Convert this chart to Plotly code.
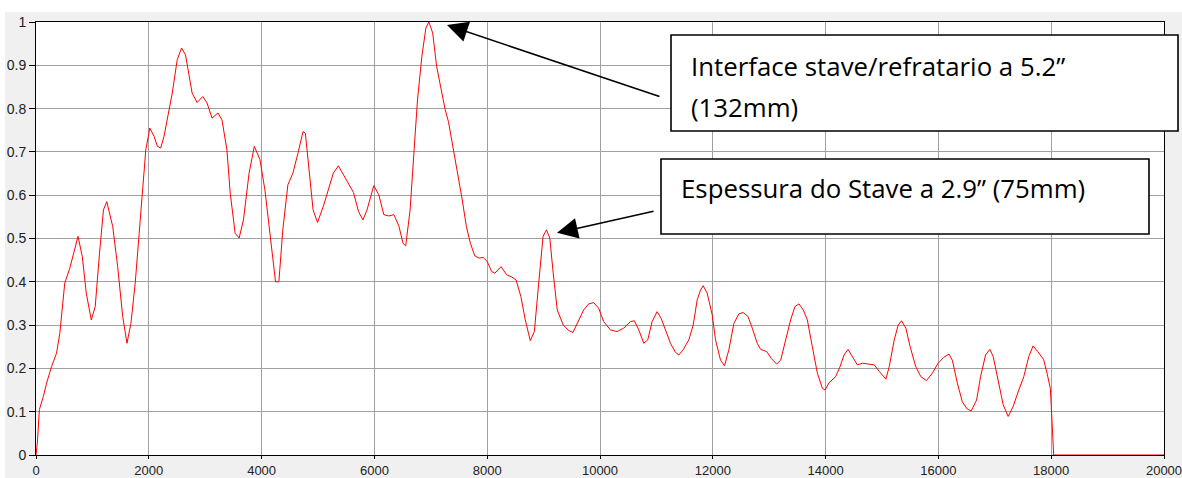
import plotly.graph_objects as go

depth = [0, 25, 60, 130, 188, 275, 364, 422, 510, 598, 668, 745, 821, 891, 980, 1050, 1126, 1196, 1255,
         1360, 1448, 1537, 1613, 1683, 1759, 1830, 1888, 1947, 2018, 2094, 2152, 2211, 2270, 2358, 2416,
         2504, 2581, 2651, 2710, 2768, 2856, 2956, 3033, 3121, 3226, 3297, 3385, 3443, 3531, 3602, 3678,
         3778, 3871, 3971, 4059, 4147, 4247, 4306, 4376, 4466, 4555, 4645, 4734, 4776, 4836, 4913, 4991,
         5093, 5182, 5272, 5361, 5451, 5540, 5630, 5719, 5797, 5869, 5988, 6078, 6167, 6257, 6346, 6436,
         6507, 6555, 6633, 6704, 6764, 6842, 6913, 6965, 7033, 7104, 7182, 7254, 7313, 7391, 7480, 7558,
         7630, 7702, 7779, 7851, 7928, 8000, 8078, 8137, 8245, 8346, 8436, 8513, 8597, 8675, 8764, 8836,
         8913, 8991, 9051, 9110, 9170, 9242, 9349, 9451, 9520, 9621, 9710, 9799, 9888, 9976, 10065, 10184,
         10302, 10420, 10539, 10610, 10687, 10776, 10847, 10924, 11012, 11083, 11160, 11249, 11338, 11397,
         11474, 11575, 11652, 11723, 11782, 11829, 11900, 11989, 12048, 12137, 12208, 12285, 12374, 12463,
         12540, 12623, 12700, 12788, 12848, 12954, 13037, 13132, 13203, 13292, 13380, 13457, 13528, 13605,
         13676, 13765, 13854, 13943, 13990, 14061, 14179, 14256, 14327, 14398, 14475, 14564, 14653, 14754,
         14863, 14952, 15069, 15128, 15217, 15287, 15346, 15423, 15499, 15599, 15688, 15788, 15894, 15994,
         16100, 16188, 16247, 16336, 16424, 16512, 16583, 16677, 16748, 16836, 16913, 16972, 17054, 17149,
         17237, 17325, 17425, 17514, 17602, 17679, 17761, 17867, 17926, 17985, 18000, 18020, 18044, 20000]

amplitude = [0.0, 0.03, 0.105, 0.135, 0.166, 0.204, 0.235, 0.281, 0.397, 0.431, 0.466, 0.505, 0.458, 0.374,
             0.312, 0.343, 0.466, 0.566, 0.585, 0.528, 0.435, 0.320, 0.258, 0.304, 0.397, 0.512, 0.620,
             0.705, 0.755, 0.736, 0.713, 0.709, 0.736, 0.798, 0.836, 0.913, 0.940, 0.924, 0.882, 0.836,
             0.814, 0.828, 0.813, 0.778, 0.790, 0.774, 0.705, 0.605, 0.512, 0.501, 0.543, 0.651, 0.713,
             0.682, 0.612, 0.512, 0.400, 0.400, 0.520, 0.624, 0.651, 0.697, 0.747, 0.743, 0.666, 0.566,
             0.537, 0.574, 0.612, 0.651, 0.668, 0.647, 0.624, 0.606, 0.562, 0.543, 0.566, 0.622, 0.601,
             0.555, 0.552, 0.555, 0.528, 0.489, 0.483, 0.566, 0.705, 0.820, 0.921, 0.986, 1.0, 0.975,
             0.897, 0.844, 0.798, 0.770, 0.713, 0.651, 0.589, 0.528, 0.489, 0.460, 0.455, 0.456, 0.447,
             0.424, 0.420, 0.435, 0.416, 0.411, 0.404, 0.366, 0.312, 0.264, 0.285, 0.397, 0.505, 0.520,
             0.501, 0.420, 0.335, 0.300, 0.287, 0.283, 0.312, 0.335, 0.349, 0.352, 0.339, 0.308, 0.289,
             0.285, 0.293, 0.308, 0.310, 0.289, 0.258, 0.266, 0.308, 0.331, 0.316, 0.289, 0.258, 0.237,
             0.231, 0.243, 0.266, 0.300, 0.358, 0.381, 0.391, 0.374, 0.324, 0.266, 0.219, 0.206, 0.243,
             0.304, 0.326, 0.329, 0.320, 0.293, 0.258, 0.244, 0.239, 0.223, 0.210, 0.219, 0.266, 0.312,
             0.343, 0.349, 0.335, 0.312, 0.250, 0.189, 0.154, 0.150, 0.167, 0.181, 0.204, 0.231, 0.244,
             0.227, 0.208, 0.212, 0.210, 0.208, 0.193, 0.175, 0.204, 0.266, 0.300, 0.310, 0.293, 0.250,
             0.204, 0.181, 0.172, 0.189, 0.212, 0.226, 0.233, 0.219, 0.166, 0.123, 0.106, 0.102, 0.127,
             0.181, 0.231, 0.244, 0.227, 0.173, 0.116, 0.089, 0.112, 0.150, 0.181, 0.227, 0.252, 0.239,
             0.220, 0.189, 0.154, 0.116, 0.050, 0.0, 0.0]

x_ticks = [0, 2000, 4000, 6000, 8000, 10000, 12000, 14000, 16000, 18000, 20000]
y_ticks = [0, 0.1, 0.2, 0.3, 0.4, 0.5, 0.6, 0.7, 0.8, 0.9, 1]

label_interface = ["Interface stave/refratario a 5.2\u201d", "(132mm)"]
label_stave = "Espessura do Stave a 2.9\u201d (75mm)"

fig = go.Figure()
fig.add_trace(go.Scatter(x=depth, y=amplitude, mode="lines", cliponaxis=False,
                         line=dict(color="#ff0000", width=1), hoverinfo="skip", showlegend=False))

W, H = 1182, 478
L, R, T, B = 36, 18, 22, 23
pw, ph = W - L - R, H - T - B

def px(x):
    return (x - L) / pw

def py(y):
    return (H - B - y) / ph

axis_common = dict(showgrid=True, gridcolor="#a0a0a0", gridwidth=1, zeroline=False,
                   showline=True, linecolor="#000000", linewidth=1, mirror=True,
                   ticks="outside", tickcolor="#000000", automargin=False,
                   layer="below traces", ticklabeloverflow="allow")

fig.update_xaxes(range=[0, 20000], tickvals=x_ticks, ticktext=[str(v) for v in x_ticks],
                 ticklen=3, tickfont=dict(family="Liberation Sans", size=13, color="#222222"),
                 **axis_common)
fig.update_yaxes(range=[0, 1], tickvals=y_ticks, ticktext=[("%g" % v) for v in y_ticks],
                 ticklen=6, tickfont=dict(family="Liberation Sans", size=14, color="#222222"),
                 **axis_common)

shapes = [
    # white strips outside the gray frame
    dict(type="rect", xref="paper", yref="paper", x0=px(0), x1=px(W), y0=py(12), y1=py(0),
         fillcolor="white", line=dict(width=0), layer="below"),
    dict(type="rect", xref="paper", yref="paper", x0=px(0), x1=px(5), y0=py(H), y1=py(0),
         fillcolor="white", line=dict(width=0), layer="below"),
    # annotation boxes
    dict(type="rect", xref="paper", yref="paper", x0=px(671), x1=px(1178), y0=py(131), y1=py(35),
         fillcolor="white", line=dict(color="#000000", width=1.6), layer="above"),
    dict(type="rect", xref="paper", yref="paper", x0=px(661), x1=px(1149), y0=py(234), y1=py(159),
         fillcolor="white", line=dict(color="#000000", width=1.6), layer="above"),
]

txt_font = dict(family="Open Sans", size=25.8, color="#000000")
annotations = [
    dict(xref="paper", yref="paper", x=px(689), y=py(66), text=label_interface[0], showarrow=False,
         xanchor="left", yanchor="middle", font=txt_font),
    dict(xref="paper", yref="paper", x=px(689), y=py(107), text=label_interface[1], showarrow=False,
         xanchor="left", yanchor="middle", font=txt_font),
    dict(xref="paper", yref="paper", x=px(679), y=py(188), text=label_stave, showarrow=False,
         xanchor="left", yanchor="middle", font=txt_font),
    # arrows
    dict(x=7287, y=0.993, xref="x", yref="y", ax=214, ay=72, text="", showarrow=True,
         arrowhead=2, arrowsize=2.6, arrowwidth=1.6, arrowcolor="#000000", standoff=0),
    dict(x=9238, y=0.513, xref="x", yref="y", ax=98, ay=-22, text="", showarrow=True,
         arrowhead=2, arrowsize=2.6, arrowwidth=1.6, arrowcolor="#000000", standoff=0),
]

fig.update_layout(width=W, height=H, margin=dict(l=L, r=R, t=T, b=B, pad=0),
                  paper_bgcolor="#f0f0f0", plot_bgcolor="#ffffff",
                  shapes=shapes, annotations=annotations, showlegend=False)

fig.write_html("out.html", config={"displayModeBar": False},
               post_script="document.body.style.margin='0px';document.body.style.overflow='hidden';")
